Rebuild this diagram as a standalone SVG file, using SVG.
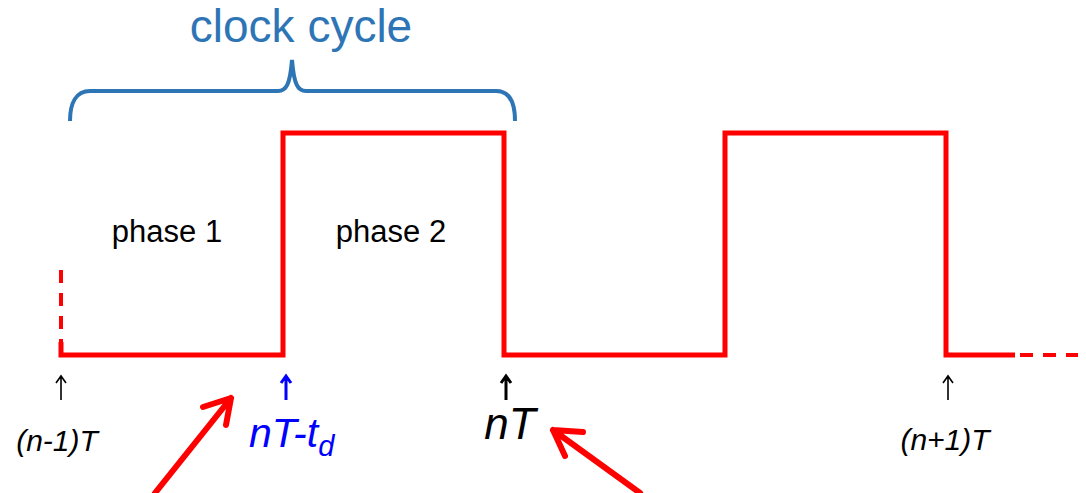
<svg xmlns="http://www.w3.org/2000/svg" width="1086" height="493" viewBox="0 0 1086 493">
<style>
.wave{fill:none;stroke:#ff0000;stroke-width:5;stroke-linejoin:miter}
.dash{fill:none;stroke:#ff0000;stroke-width:4;stroke-dasharray:13,10}
.lbl{font-family:"Liberation Sans",Arial,sans-serif;fill:#000}
.it{font-style:italic}
.tick{fill:none;stroke:#000;stroke-width:1.6}
.red{fill:none;stroke:#ff0000;stroke-width:6;stroke-linecap:round;stroke-linejoin:round}
</style>
<rect width="1086" height="493" fill="#fff"/>
<g id="waveform">
<path class="dash" d="M61,270 V344"/>
<path class="wave" d="M61,342 V355 H283 V133 H504 V355 H725 V133 H946 V355 H1015"/>
<path class="dash" d="M1020,355 H1078"/>
</g>
<g id="clock-cycle">
<path d="M70,121 C70,103 76,91 90,91 H278 C286,91 290,85 292,60 C294,85 298,91 306,91 H496 C510,91 515,103 515,121" fill="none" stroke="#2e75b6" stroke-width="4"/>
<text x="301" y="42" text-anchor="middle" font-family="Liberation Sans,Arial,sans-serif" font-size="46" fill="#2e75b6">clock cycle</text>
</g>
<g id="phase1"><text class="lbl" x="167" y="242" text-anchor="middle" font-size="31">phase 1</text></g>
<g id="phase2"><text class="lbl" x="391" y="242" text-anchor="middle" font-size="31">phase 2</text></g>
<g id="t-prev">
<path class="tick" d="M61,400 V376 M56,383 L61,376 L66,383"/>
<text class="lbl it" x="57" y="451" text-anchor="middle" font-size="30">(n-1)T</text>
</g>
<g id="t-ntd">
<path d="M286,400 V376 M281,383 L286,376 L291,383" fill="none" stroke="#0000ff" stroke-width="3"/>
<text x="249" y="447" font-family="Liberation Sans,Arial,sans-serif" font-style="italic" font-size="41" fill="#0000ff">nT-t<tspan font-size="29" dy="9">d</tspan></text>
</g>
<g id="t-n">
<path d="M506,400 V376 M501,383 L506,376 L511,383" fill="none" stroke="#000" stroke-width="3"/>
<text class="lbl it" x="510" y="439" text-anchor="middle" font-size="44">nT</text>
</g>
<g id="t-next">
<path class="tick" d="M948,400 V376 M943,383 L948,376 L953,383"/>
<text class="lbl it" x="945" y="450" text-anchor="middle" font-size="30">(n+1)T</text>
</g>
<g id="connectors">
<path class="red" d="M155,493 L231,398 M203,407 L231,398 L226,425"/>
<path class="red" d="M640,493 L553,430 M565,456 L553,430 L583,432"/>
</g>
</svg>
